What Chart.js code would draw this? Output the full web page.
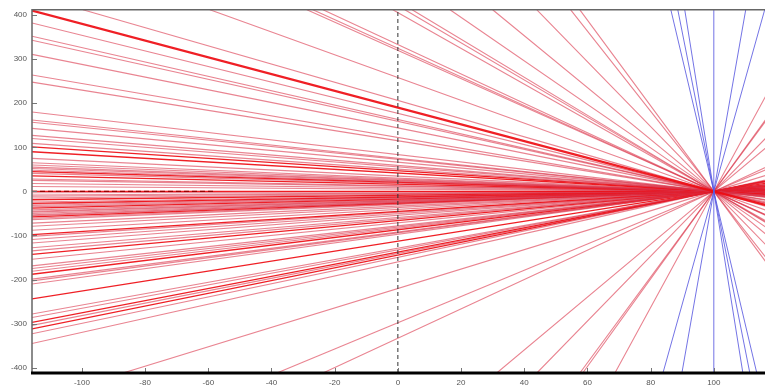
<!DOCTYPE html>
<html>
<head>
<meta charset="utf-8">
<script src="https://cdn.jsdelivr.net/npm/chart.js@4.4.1/dist/chart.umd.min.js"></script>
<style>
  html, body { margin: 0; padding: 0; background: #fff; }
  #wrap { width: 765px; height: 392px; }
</style>
</head>
<body>
<div id="wrap"><canvas id="fan" width="765" height="392"></canvas></div>
<script>
// all rays go through one focus point
var focus = [100, 0];
var xMin = -115.8, xMax = 116.2, yMin = -412, yMax = 412;

// red rays, y value where each one meets the left border
var redLeft = [410, 382, 352, 343, 311, 264, 248, 180, 162, 157, 143, 127, 120, 109, 101, 90, 75, 65, 60, 55, 52, 48, 45, 41, 35, 28, 25, 18, 11, 0,
  -3, -8, -11, -15, -19, -24, -27, -29, -32, -35, -38, -42, -45, -47, -50, -53, -55, -58, -61, -64, -72, -79, -88, -98, -102, -109, -117, -128, -135,
  -143, -154, -169, -175, -181, -188, -199, -203, -210, -244, -278, -286, -297, -304, -312, -323, -345];
// red rays leaving through the top and bottom borders (x value there)
var redTop = [-99.7, -59.5, -28.8, -26.9, -23.7, -1.6, 2.2, 4.5, 16.5, 30, 44, 54.7, 57.6];
var redBottom = [-87, -38.3, -23.7, 31.3, 44, 57.6, 58.5, 68.7];
// blue rays, x value where each one meets the bottom border
var blueBottom = [83.9, 89.9, 100, 109.2, 111.4, 113.6];
// dark dashed stretch along y = 0 on the left
var zeroDashEnd = -58;

var xTicks = [-100, -80, -60, -40, -20, 0, 20, 40, 60, 80, 100];
var yTicks = [-400, -300, -200, -100, 0, 100, 200, 300, 400];

// brighter rays
var boldLeft = [410, 101, 90, 45, 35, 0, -19, -27, -38, -58, -98, -143, -188, -244, -297, -312];

function ray(px, py) {
    return [
        { x: px, y: py },
        { x: focus[0], y: focus[1] },
        { x: 2 * focus[0] - px, y: 2 * focus[1] - py }
    ];
}

function lineSet(data, color, width, order, dash) {
    return {
        data: data,
        showLine: true,
        borderColor: color,
        borderWidth: width,
        borderDash: dash || [],
        pointRadius: 0,
        clip: 0,
        order: order
    };
}

var pale = 'rgba(218, 50, 72, 0.6)';
var bright = 'rgba(238, 12, 18, 0.92)';
var datasets = [];

redLeft.forEach(function (v) {
    var isBold = boldLeft.indexOf(v) >= 0;
    var w = v === 410 ? 2.2 : (isBold ? 1.3 : 1.1);
    datasets.push(lineSet(ray(xMin, v), isBold ? bright : pale, w, 3));
});
redTop.forEach(function (x) {
    datasets.push(lineSet(ray(x, yMax), pale, 1.1, 3));
});
redBottom.forEach(function (x) {
    datasets.push(lineSet(ray(x, yMin), pale, 1.1, 3));
});
datasets.push(lineSet([{ x: xMin, y: 0 }, { x: zeroDashEnd, y: 0 }], '#9a0000', 1.4, 2, [5, 3]));
blueBottom.forEach(function (x) {
    datasets.push(lineSet(ray(x, yMin), 'rgba(90, 90, 225, 0.85)', 1, 1));
});
// dashed vertical at x = 0
datasets.push(lineSet([{ x: 0, y: yMin }, { x: 0, y: yMax }], '#333', 1, 0, [4, 3]));

var frame = {
    id: 'frame',
    afterDatasetsDraw: function (chart) {
        var ctx = chart.ctx, a = chart.chartArea;
        var xs = chart.scales.x, ys = chart.scales.y;
        ctx.save();
        ctx.strokeStyle = '#777';
        ctx.lineWidth = 1;
        ctx.beginPath();
        ys.ticks.forEach(function (t) {
            var py = Math.round(ys.getPixelForValue(t.value)) + 0.5;
            ctx.moveTo(a.left, py);
            ctx.lineTo(a.left + 5, py);
        });
        xs.ticks.forEach(function (t) {
            var px = Math.round(xs.getPixelForValue(t.value)) + 0.5;
            ctx.moveTo(px, a.bottom);
            ctx.lineTo(px, a.bottom - 5);
        });
        ctx.stroke();
        // left and top sides of the box
        ctx.strokeStyle = '#666';
        ctx.lineWidth = 1.5;
        ctx.beginPath();
        ctx.moveTo(a.left, a.bottom);
        ctx.lineTo(a.left, a.top);
        ctx.lineTo(a.right, a.top);
        ctx.stroke();
        // heavy bottom axis
        ctx.strokeStyle = '#000';
        ctx.lineWidth = 3;
        ctx.beginPath();
        ctx.moveTo(a.left - 1, a.bottom);
        ctx.lineTo(a.right, a.bottom);
        ctx.stroke();
        ctx.restore();
    }
};

var tickFont = { family: 'Liberation Sans', size: 8 };

new Chart(document.getElementById('fan').getContext('2d'), {
    type: 'scatter',
    data: { datasets: datasets },
    options: {
        responsive: false,
        animation: false,
        devicePixelRatio: 1,
        layout: { padding: { top: 8, right: 0, left: 0, bottom: 0 } },
        plugins: { legend: { display: false }, tooltip: { enabled: false } },
        scales: {
            x: {
                type: 'linear',
                min: xMin,
                max: xMax,
                grid: { display: false, drawTicks: false },
                border: { display: false },
                afterBuildTicks: function (s) { s.ticks = xTicks.map(function (v) { return { value: v }; }); },
                afterFit: function (s) { s.height = 19; },
                ticks: { padding: 5, color: '#555', font: tickFont, maxRotation: 0 }
            },
            y: {
                type: 'linear',
                min: yMin,
                max: yMax,
                grid: { display: false, drawTicks: false },
                border: { display: false },
                afterBuildTicks: function (s) { s.ticks = yTicks.map(function (v) { return { value: v }; }); },
                afterFit: function (s) { s.width = 32; },
                ticks: { padding: 5, color: '#555', font: tickFont }
            }
        }
    },
    plugins: [frame]
});
</script>
</body>
</html>
